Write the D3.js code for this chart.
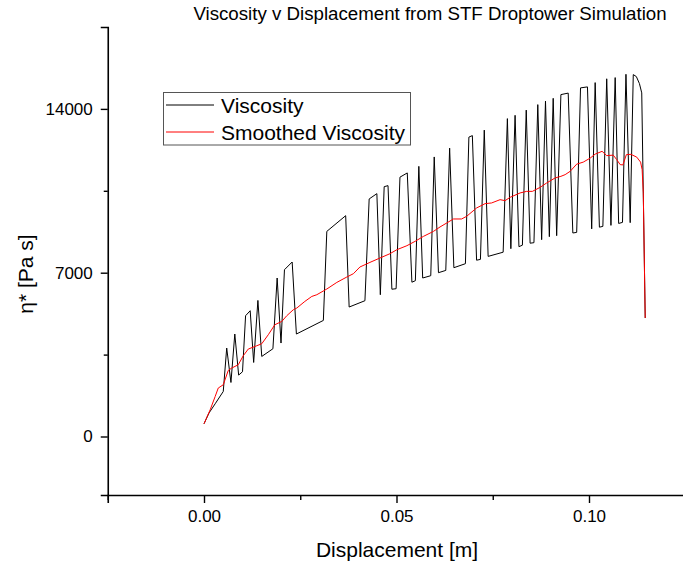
<!DOCTYPE html>
<html>
<head>
<meta charset="utf-8">
<script src="https://cdn.jsdelivr.net/npm/d3@7"></script>
<style>
  body { margin: 0; background: #fff; }
  svg { display: block; font-family: "Liberation Sans", Arial, sans-serif; }
</style>
</head>
<body>
<div id="chart"></div>
<script>
// raw viscosity (black)
const dispRaw = [0, 0.0013, 0.0029, 0.0050, 0.0059, 0.0070, 0.0080, 0.0090, 0.0100, 0.0108,
  0.0120, 0.0129, 0.0140, 0.0150, 0.0179, 0.0190, 0.0200, 0.0209, 0.0229, 0.0240,
  0.0310, 0.0319, 0.0368, 0.0377, 0.0418, 0.0429, 0.0449, 0.0458, 0.0468, 0.0478,
  0.0488, 0.0499, 0.0509, 0.0528, 0.0540, 0.0549, 0.0558, 0.0568, 0.0589, 0.0598,
  0.0609, 0.0628, 0.0638, 0.0649, 0.0679, 0.0688, 0.0697, 0.0708, 0.0718, 0.0728,
  0.0738, 0.0777, 0.0788, 0.0797, 0.0808, 0.0818, 0.0827, 0.0837, 0.0847, 0.0857,
  0.0867, 0.0877, 0.0887, 0.0897, 0.0907, 0.0916, 0.0927, 0.0946, 0.0958, 0.0968,
  0.0978, 0.0996, 0.1007, 0.1016, 0.1027, 0.1036, 0.1046, 0.1057, 0.1068, 0.1077,
  0.1087, 0.1096, 0.1107, 0.1115, 0.1123, 0.1131, 0.1137, 0.1146];
const viscRaw = [543, 1005, 1398, 1924, 3780, 2309, 4379, 2625, 2767, 5161,
  5375, 3164, 5815, 3421, 3750, 6773, 3994, 7128, 7457, 4379,
  4960, 8766, 9437, 5533, 5803, 10151, 10378, 6059, 10677, 10720,
  6294, 6316, 11083, 11263, 6594, 6658, 11545, 6773, 6872, 11947,
  7000, 7098, 12323, 7214, 7385, 12794, 12858, 7534, 7569, 13093,
  7697, 7876, 13585, 8026, 13726, 8112, 8176, 13948, 8261, 8283,
  14183, 8411, 14333, 8539, 14453, 8582, 14611, 14675, 8697, 8723,
  14898, 14940, 8873, 15124, 8945, 8980, 15287, 9022, 15338, 9104,
  9151, 15479, 9138, 15466, 15381, 15081, 14684, 5063];

// smoothed viscosity (red)
const dispSmooth = [0, 0.0016, 0.0029, 0.0037, 0.0050, 0.0063, 0.0072, 0.0089, 0.0102, 0.0115,
  0.0137, 0.0150, 0.0167, 0.0184, 0.0202, 0.0215, 0.0232, 0.0241, 0.0262, 0.0280,
  0.0293, 0.0319, 0.0345, 0.0371, 0.0388, 0.0405, 0.0431, 0.0457, 0.0483, 0.0501,
  0.0527, 0.0548, 0.0570, 0.0596, 0.0613, 0.0648, 0.0669, 0.0682, 0.0708, 0.0730,
  0.0747, 0.0769, 0.0782, 0.0795, 0.0821, 0.0838, 0.0853, 0.0873, 0.0890, 0.0912,
  0.0927, 0.0938, 0.0951, 0.0968, 0.0985, 0.1003, 0.1016, 0.1034, 0.1046, 0.1063,
  0.1072, 0.1081, 0.1088, 0.1097, 0.1109, 0.1124, 0.1134, 0.1138, 0.1141, 0.1146];
const viscSmooth = [543, 1141, 1710, 2070, 2211, 2822, 2925, 3066, 3451, 3737,
  3878, 3964, 4349, 4776, 4917, 5161, 5418, 5490, 5773, 5986,
  6059, 6303, 6585, 6816, 6957, 7243, 7440, 7628, 7812, 7983,
  8154, 8338, 8552, 8766, 8954, 9296, 9296, 9407, 9766, 9950,
  9980, 10121, 10079, 10220, 10408, 10476, 10476, 10647, 10835, 11049,
  11118, 11190, 11331, 11639, 11725, 11896, 12067, 12187, 12003, 12024,
  11832, 11618, 11605, 12045, 12058, 11939, 11725, 11404, 10421, 5063];

const yMajor = [0, 7000, 14000];
const yMinor = [3500, 10500];
const xMajor = [0, 0.05, 0.10];
const xMinor = [-0.025, 0.025, 0.075, 0.125];

const W = 683, H = 565;
const svg = d3.select("#chart").append("svg")
    .attr("width", W)
    .attr("height", H);

const x = d3.scaleLinear().domain([-0.025, 0.125]).range([107.75, 685.25]);
const y = d3.scaleLinear().domain([-2500, 17500]).range([495, 27]);

// axes
const xAxis = svg.append("g").attr("transform", "translate(0,495)")
    .call(d3.axisBottom(x).tickValues(xMajor).tickSize(8).tickPadding(7)
      .tickFormat(d3.format(".2f")));
const xAxisMinor = svg.append("g").attr("transform", "translate(0,495)")
    .call(d3.axisBottom(x).tickValues(xMinor).tickSize(5).tickFormat(""));
const yAxis = svg.append("g").attr("transform", "translate(107.75,0)")
    .call(d3.axisLeft(y).tickValues(yMajor).tickSize(7).tickPadding(8)
      .tickFormat(d3.format("d")));
const yAxisMinor = svg.append("g").attr("transform", "translate(107.75,0)")
    .call(d3.axisLeft(y).tickValues(yMinor).tickSize(4).tickFormat(""));

svg.selectAll(".domain").attr("stroke", "#000").attr("stroke-width", 1.6);
xAxisMinor.select(".domain").remove();
yAxisMinor.select(".domain").remove();
svg.selectAll(".tick line").attr("stroke", "#000").attr("stroke-width", 1.4);
svg.selectAll(".tick text").attr("fill", "#000").style("font-size", "17px")
    .style("font-family", "'Liberation Sans', Arial, sans-serif");

// lines
const rawData = dispRaw.map((d, i) => ({ x: d, v: viscRaw[i] }));
const smoothData = dispSmooth.map((d, i) => ({ x: d, v: viscSmooth[i] }));

const line = d3.line()
    .x(d => x(d.x))
    .y(d => y(d.v));

svg.append("path")
    .datum(rawData)
    .attr("d", line)
    .style("fill", "none")
    .style("stroke", "#000")
    .style("stroke-width", "1px");

svg.append("path")
    .datum(smoothData)
    .attr("d", line)
    .style("fill", "none")
    .style("stroke", "#ff0000")
    .style("stroke-width", "1px");

// titles
svg.append("text")
    .attr("x", 430).attr("y", 20)
    .attr("text-anchor", "middle")
    .style("font-size", "18.7px")
    .text("Viscosity v Displacement from STF Droptower Simulation");

svg.append("text")
    .attr("x", 397).attr("y", 557)
    .attr("text-anchor", "middle")
    .style("font-size", "21px")
    .text("Displacement [m]");

svg.append("text")
    .attr("transform", "translate(33,274) rotate(-90)")
    .attr("text-anchor", "middle")
    .style("font-size", "21px")
    .text("η* [Pa s]");

// legend
const legend = svg.append("g");
legend.append("rect")
    .attr("x", 163.5).attr("y", 92.5)
    .attr("width", 247).attr("height", 52.5)
    .attr("fill", "#fff")
    .attr("stroke", "#555")
    .attr("stroke-width", 1);

const legendItems = [
  { name: "Viscosity", color: "#000", yy: 105 },
  { name: "Smoothed Viscosity", color: "#ff0000", yy: 132 }
];
legendItems.forEach(item => {
  legend.append("line")
      .attr("x1", 166).attr("x2", 214)
      .attr("y1", item.yy).attr("y2", item.yy)
      .attr("stroke", item.color).attr("stroke-width", 1);
  legend.append("text")
      .attr("x", 221).attr("y", item.yy + 8)
      .style("font-size", "21px")
      .text(item.name);
});
</script>
</body>
</html>
